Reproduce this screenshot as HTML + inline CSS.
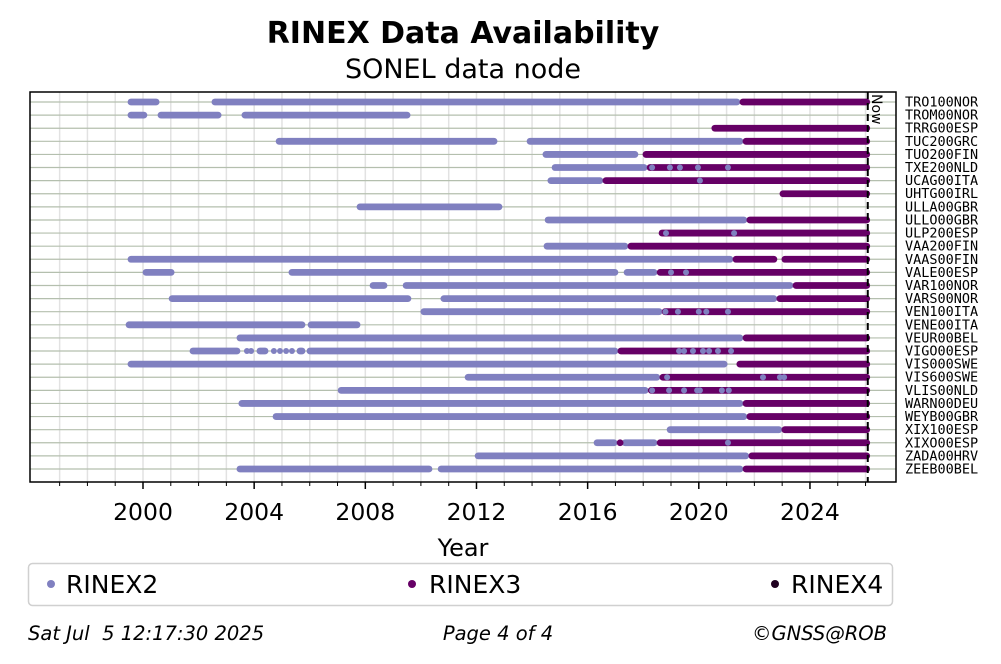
<!DOCTYPE html>
<html><head><meta charset="utf-8"><style>
body{margin:0;background:#fff;width:1001px;height:664px;overflow:hidden}
svg{display:block;font-family:"DejaVu Sans","Liberation Sans",sans-serif}
</style></head><body>
<svg id="chart" width="1001" height="664" viewBox="0 0 1001 664" xmlns="http://www.w3.org/2000/svg">
<text x="463" y="43" text-anchor="middle" font-size="30" font-weight="bold">RINEX Data Availability</text>
<text x="463" y="78" text-anchor="middle" font-size="27">SONEL data node</text>
<g id="grid"></g>
<g id="marks"></g>
<g id="axes"></g>
<text x="463" y="556" text-anchor="middle" font-size="24">Year</text>
<g>
<rect x="28.5" y="563.5" width="864" height="42" rx="4" fill="#fff" stroke="#d0d0d0" stroke-width="1.5"/>
<g><circle cx="51" cy="584" r="4" fill="#8080c0"/><text x="66" y="593" font-size="25">RINEX2</text></g>
<g><circle cx="412" cy="584" r="4" fill="#660066"/><text x="429" y="593" font-size="25">RINEX3</text></g>
<g><circle cx="775" cy="584" r="4" fill="#200020"/><text x="791" y="593" font-size="25">RINEX4</text></g>
</g>
<text x="28" y="640" font-size="19.5" font-style="italic" xml:space="preserve">Sat Jul  5 12:17:30 2025</text>
<text x="498" y="640" text-anchor="middle" font-size="19.5" font-style="italic">Page 4 of 4</text>
<text x="887" y="640" text-anchor="end" font-size="19.5" font-style="italic">©GNSS@ROB</text>
</svg>
<script>
const stations=["TRO100NOR","TROM00NOR","TRRG00ESP","TUC200GRC","TUO200FIN","TXE200NLD","UCAG00ITA","UHTG00IRL","ULLA00GBR","ULLO00GBR","ULP200ESP","VAA200FIN","VAAS00FIN","VALE00ESP","VAR100NOR","VARS00NOR","VEN100ITA","VENE00ITA","VEUR00BEL","VIGO00ESP","VIS000SWE","VIS600SWE","VLIS00NLD","WARN00DEU","WEYB00GBR","XIX100ESP","XIXO00ESP","ZADA00HRV","ZEEB00BEL"];
const yearTicks=[2000,2004,2008,2012,2016,2020,2024];
const nowYear=2026.08;
const E=2026.15;
const r2Segs=[[0,1999.46,2000.58],[0,2002.48,2021.48],[1,1999.46,2000.14],[1,2000.54,2002.81],[1,2003.56,2009.61],
[3,2004.79,2012.74],[3,2013.82,2021.59],[4,2014.39,2017.81],[5,2014.72,2018.14],[6,2014.57,2016.55],
[8,2007.70,2012.92],[9,2014.47,2021.73],[11,2014.43,2017.45],[12,1999.46,2021.23],
[13,2000,2001.12],[13,2005.25,2017.09],[13,2017.31,2018.5],[14,2008.17,2008.78],[14,2009.36,2023.39],
[15,2000.94,2009.64],[15,2010.72,2022.81],[16,2010.0,2018.68],[17,1999.39,2005.83],[17,2005.94,2007.81],
[18,2003.38,2021.59],[19,2001.69,2003.49],[19,2004.1,2004.5],[19,2005.54,2005.83],[19,2005.9,2017.09],
[20,1999.46,2021.02],[21,2011.59,2018.6],[21,2019.94,2021.59],[22,2007.02,2018.18],[23,2003.45,2021.59],
[24,2004.68,2021.73],[25,2018.86,2022.99],[26,2016.23,2017.06],[26,2017.24,2018.5],[27,2011.95,2021.8],
[28,2003.38,2010.4],[28,2010.62,2021.59]];
const r3Segs=[[0,2021.48,E],[2,2020.47,E],[3,2021.59,E],[4,2017.99,E],[5,2018.14,E],
[6,2016.55,E],[7,2022.92,E],[9,2021.73,E],[10,2018.57,E],[11,2017.45,E],
[12,2021.23,2022.81],[12,2022.99,E],[13,2018.5,E],[14,2023.39,E],[15,2022.81,E],
[16,2018.68,E],[18,2021.59,E],[19,2017.09,E],[20,2021.37,E],[21,2018.6,E],
[22,2018.18,E],[23,2021.59,E],[24,2021.73,E],[25,2022.99,E],[26,2017.06,2017.24],
[26,2018.5,E],[27,2021.8,E],[28,2021.59,E]];
const r2Dots=[[5,2018.32],[5,2018.96],[5,2019.32],[5,2019.97],[5,2021.05],[6,2020.04],[10,2018.82],[10,2021.27],
[13,2019.0],[13,2019.54],[16,2018.8],[16,2019.25],[16,2020.0],[16,2020.27],[16,2021.05],
[19,2003.74],[19,2003.89],[19,2004.71],[19,2004.93],[19,2005.15],[19,2005.36],
[19,2019.29],[19,2019.47],[19,2019.79],[19,2020.15],[19,2020.37],[19,2020.69],[19,2021.16],
[21,2018.86],[21,2022.31],[21,2022.92],[21,2023.07],
[22,2018.32],[22,2018.93],[22,2019.47],[22,2019.94],[22,2020.04],[22,2020.83],[22,2021.08],[26,2021.05]];

const NS="http://www.w3.org/2000/svg";
const L=30,R=896,T=92,B=482;
const x=v=>143+(v-2000)*27.79;
const y=i=>102+i*13.107;
function mk(tag,attrs,parent){const e=document.createElementNS(NS,tag);for(const k in attrs)e.setAttribute(k,attrs[k]);parent.appendChild(e);return e;}
const grid=document.getElementById('grid'),marks=document.getElementById('marks'),axes=document.getElementById('axes');
for(let yr=1997;yr<=2026;yr++){const e=mk('line',{x1:x(yr),x2:x(yr),y1:T,y2:B,stroke:'#e2e2e2','stroke-width':1.5},grid);

}
stations.forEach((s,i)=>{const e=mk('line',{x1:L,x2:R,y1:y(i),y2:y(i),stroke:'#b4bfae','stroke-width':1.2},grid);


const t=mk('text',{x:905,y:y(i)+4.5,'font-size':13.5,'font-family':'DejaVu Sans Mono, Liberation Mono, monospace'},axes);t.textContent=s;

});
function seg(list,color,name){list.forEach(([i,a,b])=>{const e=mk('line',{x1:x(a)+3,x2:Math.max(x(a)+3,x(b)-3),y1:y(i),y2:y(i),stroke:color,'stroke-width':6.8,'stroke-linecap':'round'},marks);

});}
seg(r2Segs,'#8080c0','rinex2-segment');
seg(r3Segs,'#660066','rinex3-segment');
r2Dots.forEach(([i,v])=>{const e=mk('circle',{cx:x(v),cy:y(i),r:3,fill:'#8080c0'},marks);

});
const nl=mk('line',{x1:x(nowYear),x2:x(nowYear),y1:T,y2:B,stroke:'#000','stroke-width':2,'stroke-dasharray':'7,4'},marks);


const nt=mk('text',{x:0,y:0,'font-size':14,transform:`translate(${x(nowYear)+4},94) rotate(90)`},marks);nt.textContent='Now';


const fr=mk('rect',{x:L,y:T,width:R-L,height:B-T,fill:'none',stroke:'#000','stroke-width':1.5},axes);


for(let yr=1997;yr<=2026;yr++){const major=yearTicks.includes(yr);const e=mk('line',{x1:x(yr),x2:x(yr),y1:B,y2:B+(major?7:4),stroke:'#000','stroke-width':major?1.5:1},axes);

}
yearTicks.forEach(yr=>{const t=mk('text',{x:x(yr),y:520,'text-anchor':'middle','font-size':23.5},axes);t.textContent=yr;

});
</script>
</body></html>
